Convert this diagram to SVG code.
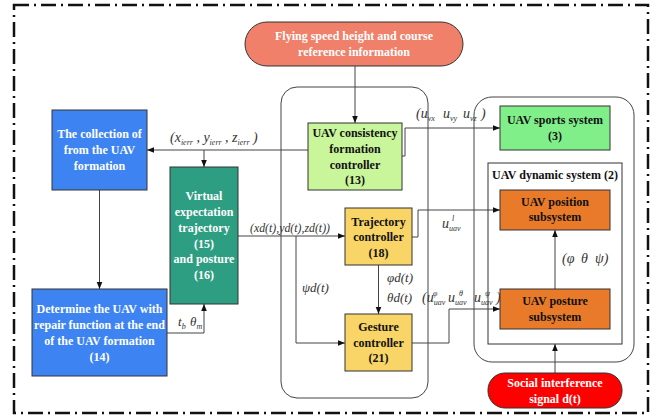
<svg xmlns="http://www.w3.org/2000/svg" width="656" height="418" viewBox="0 0 656 418">
<defs>
<marker id="arr" viewBox="0 0 10 10" refX="10" refY="5" markerWidth="7" markerHeight="7" orient="auto" markerUnits="userSpaceOnUse">
<path d="M0,1 L10,5 L0,9 z" fill="#111"/>
</marker>
<style>
.bt{font-family:"Liberation Serif","Times New Roman",serif;font-weight:bold;font-size:12px;text-anchor:middle}
.w{fill:#fff}
.k{fill:#111}
.m{font-family:"Liberation Serif","Times New Roman",serif;font-style:italic;font-size:13px;fill:#333}
.m14{font-size:14px}
.s{font-size:8px}
.box{stroke:#333;stroke-width:1}
.con{fill:none;stroke:#444;stroke-width:1}
.wire{fill:none;stroke:#444;stroke-width:1}
.ar{marker-end:url(#arr)}
</style>
</defs>
<rect width="656" height="418" fill="#fff"/>
<rect x="14" y="5" width="634" height="408" fill="none" stroke="#111" stroke-width="2.5" stroke-dasharray="15 5 2 5"/>

<g id="containers">
<rect x="281" y="87" width="147" height="311" rx="16" class="con"/>
<rect x="474" y="97" width="160" height="265" rx="18" class="con"/>
</g>

<g id="connectors">
<path class="wire ar" d="M355,66 V123"/>
<path class="wire ar" d="M308,150 H147"/>
<path class="wire ar" d="M204,150 V167"/>
<path class="wire ar" d="M99.5,190 V289"/>
<path class="wire ar" d="M167,333 H204 V304"/>
<path class="wire ar" d="M238,236 H345"/>
<path class="wire ar" d="M296,236 V343 H345"/>
<path class="wire ar" d="M378.5,265 V314"/>
<path class="wire ar" d="M402,156 H405 V128 H500"/>
<path class="wire ar" d="M412,237 H418 V210 H500"/>
<path class="wire ar" d="M412,343 H449 V309 H500"/>
<path class="wire ar" d="M555,289 V230"/>
<path class="wire ar" d="M555,373 V344"/>
</g>

<g id="labels">
<text class="m m14" x="170" y="142">(x<tspan class="s" dy="3">ierr</tspan><tspan dy="-3"> , y</tspan><tspan class="s" dy="3">ierr</tspan><tspan dy="-3"> , z</tspan><tspan class="s" dy="3">ierr</tspan><tspan dy="-3"> )</tspan></text>
<text class="m m14" x="416" y="118">(u<tspan class="s" dy="3">vx</tspan><tspan x="443" dy="-3">u</tspan><tspan class="s" dy="3">vy</tspan><tspan x="463" dy="-3">u</tspan><tspan class="s" dy="3">vz</tspan><tspan x="481" dy="-3">)</tspan></text>
<text class="m" x="250" y="232" textLength="80" lengthAdjust="spacingAndGlyphs">(xd(t),yd(t),zd(t))</text>
<text class="m" x="302" y="292">ψd(t)</text>
<text class="m" x="387" y="282">φd(t)</text>
<text class="m" x="387" y="302">θd(t)</text>
<text class="m m14" x="422" y="302">(u<tspan class="s" dy="3">uav</tspan><tspan class="s" x="433" dy="-9">φ</tspan><tspan x="448" dy="6">u</tspan><tspan class="s" dy="3">uav</tspan><tspan class="s" x="459" dy="-9">θ</tspan><tspan x="474" dy="6">u</tspan><tspan class="s" dy="3">uav</tspan><tspan class="s" x="485" dy="-9">ψ</tspan><tspan x="496" dy="6">)</tspan></text>
<text class="m m14" x="442" y="228">u<tspan class="s" dy="3">uav</tspan><tspan class="s" x="452" dy="-10">l</tspan></text>
<text class="m m14" x="562" y="263">(φ<tspan x="581">θ</tspan><tspan x="595">ψ)</tspan></text>
<text class="m" x="178" y="326">t<tspan class="s" dy="3">b</tspan><tspan x="190" dy="-3">θ</tspan><tspan class="s" dy="3">m</tspan></text>
</g>

<g id="n-reference">
<rect x="245" y="22" width="218" height="44" rx="22" fill="#F0806A" class="box"/>
<text class="bt w" x="354" y="40">Flying speed height and course</text>
<text class="bt w" x="354" y="56">reference information</text>
</g>

<g id="n-collection">
<rect x="52" y="110" width="95" height="80" fill="#3D84F2" class="box"/>
<text class="bt w" x="99.5" y="138">The collection of</text>
<text class="bt w" x="99.5" y="154">from the UAV</text>
<text class="bt w" x="99.5" y="170">formation</text>
</g>

<g id="n-virtual">
<rect x="170" y="167" width="68" height="137" fill="#2E9E82" class="box"/>
<text class="bt w" x="204" y="200">Virtual</text>
<text class="bt w" x="204" y="216">expectation</text>
<text class="bt w" x="204" y="232">trajectory</text>
<text class="bt w" x="204" y="248">(15)</text>
<text class="bt w" x="204" y="263">and posture</text>
<text class="bt w" x="204" y="279">(16)</text>
</g>

<g id="n-determine">
<rect x="32" y="289" width="135" height="87" fill="#3D84F2" class="box"/>
<text class="bt w" x="99.5" y="313">Determine the UAV with</text>
<text class="bt w" x="99.5" y="329">repair function at the end</text>
<text class="bt w" x="99.5" y="345">of the UAV formation</text>
<text class="bt w" x="99.5" y="361">(14)</text>
</g>

<g id="n-consistency">
<rect x="308" y="123" width="94" height="67" fill="#C9F59B" class="box"/>
<text class="bt k" x="355" y="137">UAV consistency</text>
<text class="bt k" x="355" y="153">formation</text>
<text class="bt k" x="355" y="169">controller</text>
<text class="bt k" x="355" y="184">(13)</text>
</g>

<g id="n-trajectory">
<rect x="345" y="208" width="67" height="57" fill="#F9D466" class="box"/>
<text class="bt k" x="378.5" y="226">Trajectory</text>
<text class="bt k" x="378.5" y="241">controller</text>
<text class="bt k" x="378.5" y="257">(18)</text>
</g>

<g id="n-gesture">
<rect x="345" y="314" width="67" height="57" fill="#F9D466" class="box"/>
<text class="bt k" x="378.5" y="331">Gesture</text>
<text class="bt k" x="378.5" y="347">controller</text>
<text class="bt k" x="378.5" y="362">(21)</text>
</g>

<g id="n-sports">
<rect x="500" y="106" width="110" height="44" fill="#80EF8A" class="box"/>
<text class="bt k" x="555" y="124">UAV sports system</text>
<text class="bt k" x="555" y="140">(3)</text>
</g>

<g id="n-dynamic">
<rect x="488" y="163" width="134" height="181" fill="none" class="box"/>
<text class="bt k" x="492" y="179" style="text-anchor:start">UAV dynamic system <tspan x="604">(2)</tspan></text>
</g>

<g id="n-position">
<rect x="500" y="190" width="110" height="40" fill="#E87A2A" class="box"/>
<text class="bt k" x="555" y="206">UAV position</text>
<text class="bt k" x="555" y="221">subsystem</text>
</g>

<g id="n-posture">
<rect x="500" y="289" width="110" height="40" fill="#E87A2A" class="box"/>
<text class="bt k" x="555" y="305">UAV posture</text>
<text class="bt k" x="555" y="321">subsystem</text>
</g>

<g id="n-social">
<rect x="488" y="373" width="134" height="35" rx="17" fill="#FF0000" class="box"/>
<text class="bt w" x="555" y="387">Social interference</text>
<text class="bt w" x="555" y="403">signal d(t)</text>
</g>
</svg>
